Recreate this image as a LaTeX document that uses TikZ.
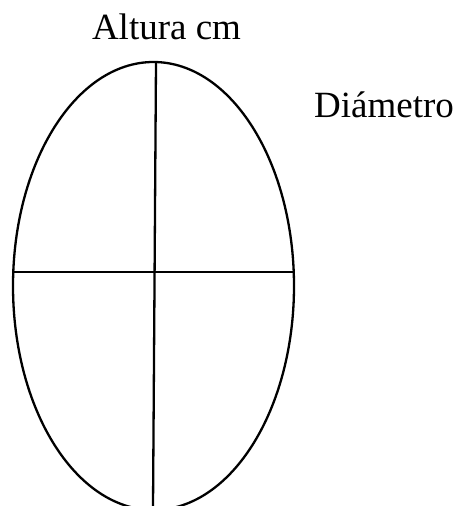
\documentclass[tikz,border=0pt]{standalone}
\usepackage{fontspec}
\setmainfont{Liberation Serif}
\begin{document}
\begin{tikzpicture}[x=1pt,y=-1pt,
  lbl/.style={inner sep=0pt,font=\fontsize{37}{40}\selectfont},
  stroke/.style={line width=2.3pt,black}]
\useasboundingbox (0,0) rectangle (457,506);
\clip (0,0) rectangle (457,506);
\draw[stroke] (153.5,286) ellipse [x radius=140.5, y radius=224];
\coordinate (vt) at (156,62);
\coordinate (vb) at (153,508);
\coordinate (hl) at (13,272);
\coordinate (hr) at (294,272);
\draw[stroke] (vt) -- (vb);
\draw[stroke] (hl) -- (hr);
\node[lbl,anchor=base] (alt) at (166.5,39) {Altura cm};
\node[lbl,anchor=base west] (dia) at (314,117) {Diámetro};
\end{tikzpicture}
\end{document}
